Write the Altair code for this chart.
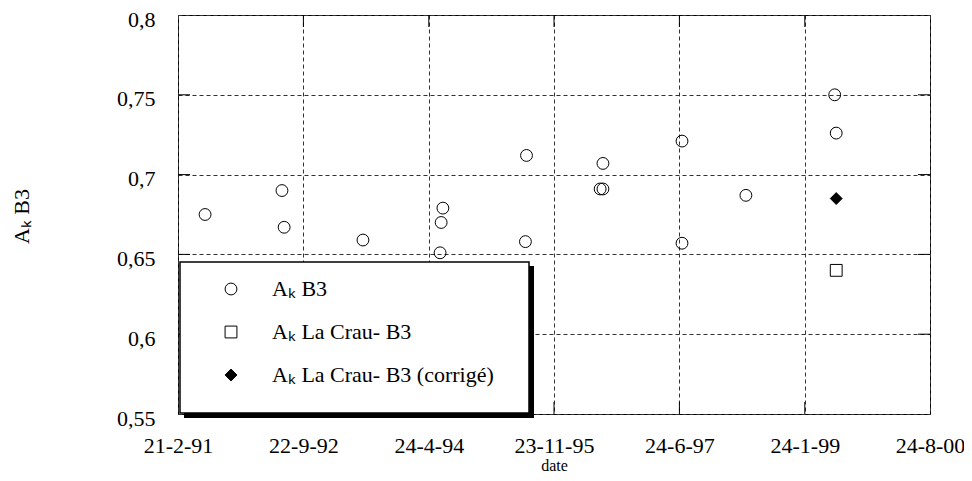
import altair as alt
import pandas as pd

# ---------------- data ----------------
S1 = "Aₖ B3"
S2 = "Aₖ La Crau- B3"
S3 = "Aₖ La Crau- B3 (corrigé)"
series_names = [S1, S2, S3]

b3_dates = ["1991-06-26", "1992-06-15", "1992-06-25", "1993-06-24",
            "1994-06-28", "1994-06-20", "1994-06-15", "1995-07-19",
            "1995-07-14", "1996-07-06", "1996-06-23", "1996-07-06",
            "1997-07-06", "1997-07-06", "1998-04-27", "1999-06-11",
            "1999-06-18"]
b3_values = [0.675, 0.690, 0.667, 0.659,
             0.679, 0.670, 0.651, 0.712,
             0.658, 0.707, 0.691, 0.691,
             0.721, 0.657, 0.687, 0.750,
             0.726]

crau_dates = ["1999-06-18"]
crau_values = [0.640]

corr_dates = ["1999-06-18"]
corr_values = [0.685]

x_tick_dates = ["1991-02-21", "1992-09-22", "1994-04-24", "1995-11-23",
                "1997-06-24", "1999-01-24", "2000-08-24"]
y_tick_values = [0.55, 0.6, 0.65, 0.7, 0.75, 0.8]

# ---------------- tables ----------------
points = pd.DataFrame({
    "date": b3_dates + crau_dates + corr_dates,
    "value": b3_values + crau_values + corr_values,
    "series": [S1] * len(b3_dates) + [S2] * len(crau_dates) + [S3] * len(corr_dates),
})
xt = pd.DataFrame({"date": x_tick_dates[1:-1]})
yt = pd.DataFrame({"value": y_tick_values[1:-1]})
one = pd.DataFrame({"a": [0]})


def dt(s):
    y, m, d = (int(p) for p in s.split("-"))
    return alt.DateTime(year=y, month=m, date=d, utc=True)


FONT = "Liberation Serif"
W, H = 752, 399

x_enc = alt.X(
    "date:T",
    scale=alt.Scale(type="utc", domain=[dt(x_tick_dates[0]), dt(x_tick_dates[-1])]),
    axis=alt.Axis(
        values=[dt(s) for s in x_tick_dates],
        labelExpr="utcFormat(datum.value, '%-d-%-m-%y')",
        title="date",
        titleFont=FONT, titleFontSize=16, titleFontWeight="normal", titleColor="black",
        titleX=376, titleY=43, titleBaseline="top", titleAlign="center",
        labelFont=FONT, labelFontSize=22, labelColor="black", labelPadding=21,
        ticks=False, domain=False,
        grid=True, gridDash=[4, 3], gridColor="#333333", gridWidth=1,
        labelFlush=False, labelOverlap=False,
    ),
)
y_enc = alt.Y(
    "value:Q",
    scale=alt.Scale(domain=[y_tick_values[0], y_tick_values[-1]], nice=False, zero=False),
    axis=alt.Axis(
        values=y_tick_values,
        labelExpr="replace(format(datum.value, '.2~f'), '.', ',')",
        title=S1,
        titleFont=FONT, titleFontSize=22, titleFontWeight="normal", titleColor="black",
        titleX=-145, titleY=201, titleAngle=270, titleAlign="center", titleBaseline="bottom",
        labelFont=FONT, labelFontSize=22, labelColor="black", labelPadding=23,
        labelOffset=4,
        ticks=False, domain=False,
        grid=True, gridDash=[4, 3], gridColor="#333333", gridWidth=1,
        labelFlush=False, labelOverlap=False,
    ),
)

tick_top = alt.Chart(xt).mark_rule(color="black", strokeWidth=1).encode(
    x=x_enc, y=alt.value(0), y2=alt.value(12))
tick_bottom = alt.Chart(xt).mark_rule(color="black", strokeWidth=1).encode(
    x=x_enc, y=alt.value(H - 12), y2=alt.value(H))
tick_left = alt.Chart(yt).mark_rule(color="black", strokeWidth=1).encode(
    y=y_enc, x=alt.value(0), x2=alt.value(12))
tick_right = alt.Chart(yt).mark_rule(color="black", strokeWidth=1).encode(
    y=y_enc, x=alt.value(W - 12), x2=alt.value(W))

shadow = alt.Chart(one).mark_rect(color="black").encode(
    x=alt.value(6), x2=alt.value(356), y=alt.value(251), y2=alt.value(403))
box = alt.Chart(one).mark_rect(fill="white", stroke="black", strokeWidth=1.5).encode(
    x=alt.value(2), x2=alt.value(351), y=alt.value(247), y2=alt.value(398))

legend = alt.Legend(
    title=None, orient="none", legendX=42, legendY=263, padding=0,
    labelFont=FONT, labelFontSize=22, labelColor="black", labelOffset=30,
    labelLimit=500,
    rowPadding=21, symbolSize=140, symbolStrokeColor="black", symbolStrokeWidth=1,
)

pts = alt.Chart(points).mark_point(
    filled=True, strokeWidth=1, size=140, opacity=1
).encode(
    x=x_enc,
    y=y_enc,
    shape=alt.Shape("series:N", scale=alt.Scale(domain=series_names,
                                                range=["circle", "square", "diamond"]),
                    legend=legend),
    fill=alt.Fill("series:N", scale=alt.Scale(domain=series_names,
                                              range=["transparent", "transparent", "black"]),
                  legend=legend),
    stroke=alt.Stroke("series:N", scale=alt.Scale(domain=series_names,
                                                  range=["black", "black", "black"]),
                      legend=legend),
)

chart = alt.layer(tick_top, tick_bottom, tick_left, tick_right, shadow, box, pts).properties(
    width=W, height=H,
    padding={"left": 170, "top": 7, "right": 34, "bottom": 59},
    autosize=alt.AutoSizeParams(type="none"),
    background="white",
).configure_view(stroke="black", strokeWidth=1)

chart.save("out.html", embed_options={"renderer": "svg", "actions": False})
